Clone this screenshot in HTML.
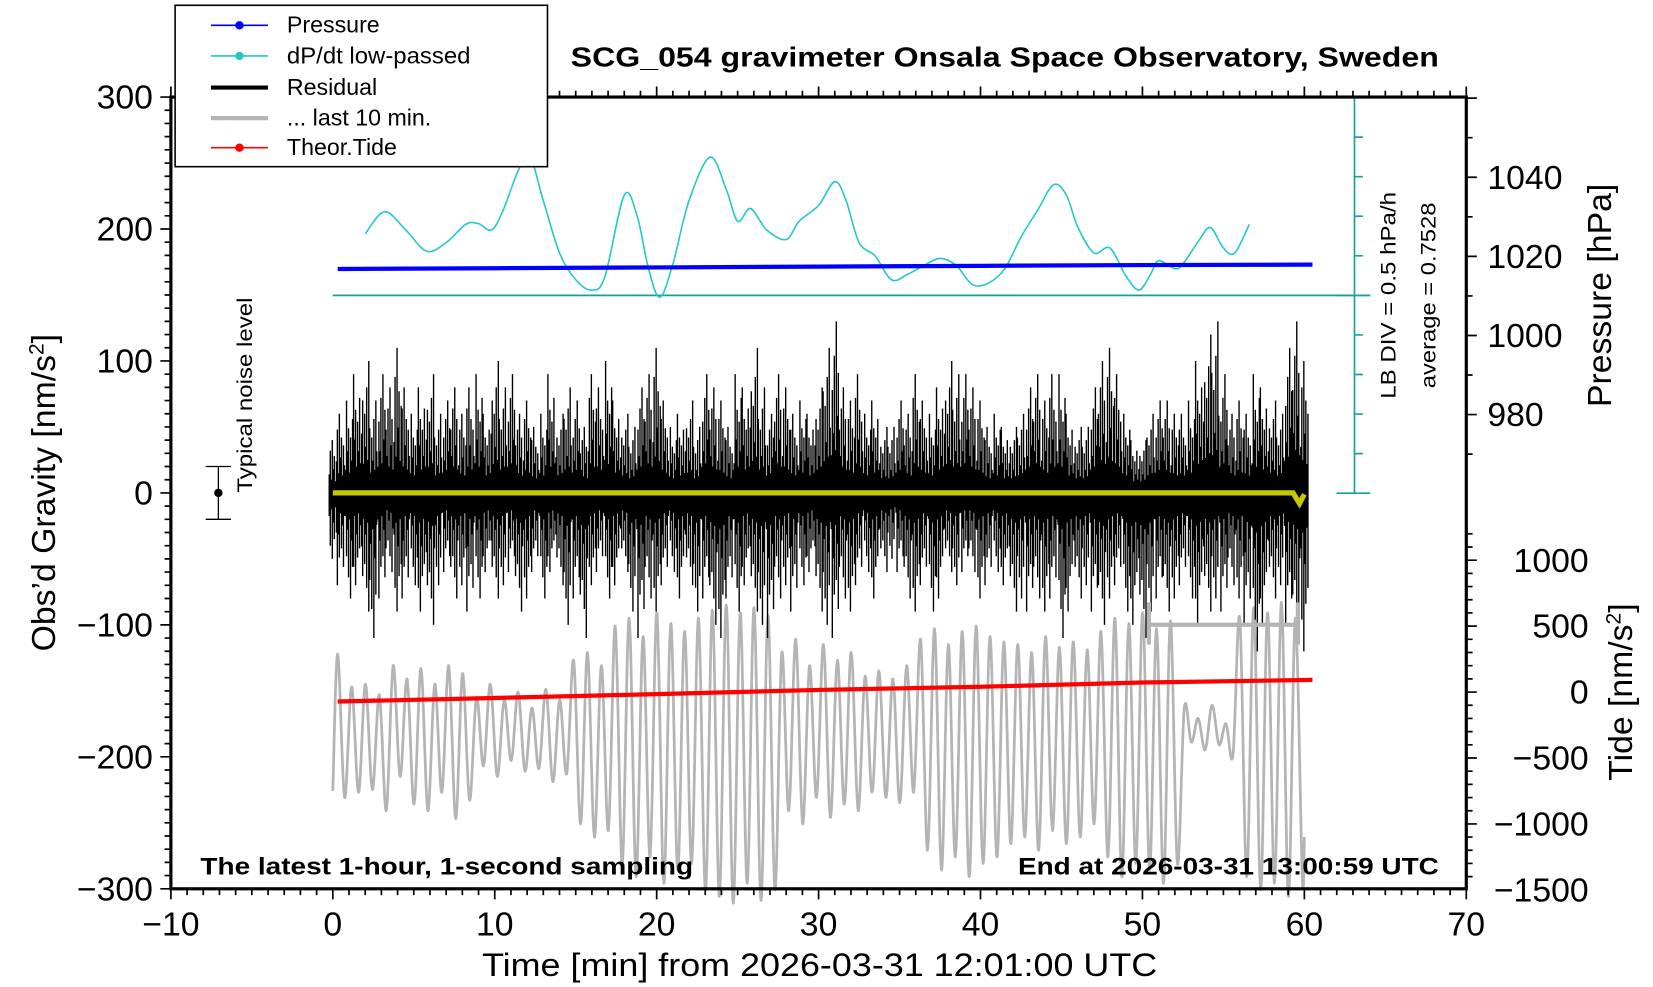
<!DOCTYPE html>
<html><head><meta charset="utf-8"><style>
html,body{margin:0;padding:0;background:#fff;}
svg{display:block;font-family:"Liberation Sans",sans-serif;}
</style></head><body>
<svg id="chart" width="1653" height="987" viewBox="0 0 1567 935.6" preserveAspectRatio="none" xmlns="http://www.w3.org/2000/svg">
<rect x="0" y="0" width="1567" height="936" fill="#fff"/>
<g id="gray"></g>
<g id="resid"></g>
<g id="over"></g>
<g id="axes"></g>
</svg>
<script>
// ---- data ----
const xTicks = [-10,0,10,20,30,40,50,60,70];
const yTicks = [-300,-200,-100,0,100,200,300];
const pTicks = [980,1000,1020,1040];
const tideTicks = [-1500,-1000,-500,0,500,1000];
const resMax = [40,60,70,90,100,70,90,80,110,80,60,80,90,60,70,80,60,80,90,60,100,80,90,60,70,50,60,90,60,80,70,50,90,80,100,70,60,50,80,90,110,70,50,60,70,50,90,80,70,50,90,80,110,80,60,90,80,60,70,60,80,110,130,80,70,90,60,70,50,50,70,60,90,70,60,80,100,90,90,80,70,50,60,50,50,60,80,90,70,90,90,60,50,50,80,100,110,90,60,40,40,60,70,70,60,60,70,100,120,130,90,60,70,60,90,80,70,60,110,130,100];
const resMin = [-50,-70,-80,-70,-90,-110,-80,-60,-90,-80,-70,-90,-100,-70,-60,-80,-70,-90,-80,-60,-80,-70,-60,-90,-80,-60,-80,-60,-70,-100,-80,-110,-70,-60,-80,-70,-60,-90,-110,-80,-90,-70,-60,-80,-70,-90,-80,-100,-110,-80,-90,-70,-90,-100,-110,-80,-70,-90,-70,-60,-90,-100,-110,-80,-90,-70,-60,-80,-60,-50,-60,-80,-90,-70,-90,-80,-60,-70,-60,-60,-80,-70,-60,-70,-90,-80,-90,-80,-90,-80,-110,-90,-80,-70,-90,-100,-80,-70,-90,-100,-110,-90,-80,-90,-80,-70,-80,-100,-90,-80,-90,-70,-80,-100,-120,-100,-80,-70,-100,-110,-120];
const dpTime = [2.0,3.2,4.5,5.8,7,8.2,9,9.8,10.5,11.5,12.2,13,14,15,16,16.8,18,18.8,19.5,20.2,21,22,23.3,24.3,25,25.8,26.8,28,28.8,30,31,31.7,32.5,33.5,34.5,35.5,36.5,37.5,38.5,39.5,40.5,41.5,42.5,43.5,44.5,45.3,46,47,48,49,49.8,50.5,51,52,52.5,53.5,54.2,55,55.7,56.6];
const dpValue = [1.53,1.81,1.58,1.31,1.42,1.65,1.66,1.58,1.82,2.35,2.49,1.95,1.29,0.95,0.82,0.99,2.02,1.75,1.09,0.73,1.15,1.95,2.50,2.09,1.69,1.85,1.58,1.46,1.69,1.89,2.19,1.95,1.42,1.25,0.95,1.02,1.13,1.22,1.13,0.89,0.91,1.09,1.49,1.82,2.15,2.02,1.62,1.29,1.35,0.99,0.82,1.02,1.19,1.09,1.15,1.45,1.61,1.35,1.29,1.65];
const dpAverage = 0.7528;
const presTime = [0.3,10,20,30,40,50,60.5];
const presValue = [1016.8,1017.0,1017.2,1017.4,1017.6,1017.8,1017.9];
const tideTime = [0.3,10,20,30,40,50,60.5];
const tideValue = [-72,-45,-16,16,40,72,92];
const grayHi = [288,40,60,-20,200, 100,180,60,200,140, -40,60,-60,0,-120,20,-60, 240,300,200, 500,560,420,600,520,460, 560,620,660,600,640,580, 300,400,200,360,240,300,120, 160,100,200, 400,480,360,460,500,420,380, 360,300,420,340,380,320, 460,560,520,600,480,540, -120,-200,-100,-240, 560,640,600,680,560];
const grayLo = [-800,-760,-740,-900,-640, -850,-900,-760,-960,-820, -560,-640,-520,-600,-580,-680,-620, -1000,-1100,-1050, -1300,-1400,-1250,-1450,-1350,-1300, -1500,-1550,-1600,-1450,-1580,-1500, -900,-1000,-800,-950,-850,-900,-760, -800,-840,-760, -1200,-1350,-1250,-1400,-1300,-1250,-1150, -1100,-1200,-1050,-1150,-1100,-1000, -1250,-1400,-1300,-1350,-1450,-1300, -380,-440,-400,-480, -1400,-1500,-1450,-1550,-1400];

// ---- scales ----
const L=162,R=1390,T=92,B=842.5;
const X = m => L + (m+10)/80*(R-L);
const Y = v => B - (v+300)/600*(B-T);
const P = p => 243 - (p-1020)*3.75;
const TD = v => 656 - v*0.125;
const DP = v => 280 - (v-dpAverage)/0.5*37.5;
const NS='http://www.w3.org/2000/svg';
function mk(tag, attrs, parent){const e=document.createElementNS(NS,tag);for(const k in attrs)e.setAttribute(k,attrs[k]);parent.appendChild(e);return e;}
function smooth(pts){let d='M'+pts[0][0].toFixed(1)+','+pts[0][1].toFixed(1);for(let i=0;i<pts.length-1;i++){const p0=pts[Math.max(0,i-1)],p1=pts[i],p2=pts[i+1],p3=pts[Math.min(pts.length-1,i+2)];const c1x=p1[0]+(p2[0]-p0[0])/6,c1y=p1[1]+(p2[1]-p0[1])/6,c2x=p2[0]-(p3[0]-p1[0])/6,c2y=p2[1]-(p3[1]-p1[1])/6;d+=` C${c1x.toFixed(1)},${c1y.toFixed(1)} ${c2x.toFixed(1)},${c2y.toFixed(1)} ${p2[0].toFixed(1)},${p2[1].toFixed(1)}`;}return d;}
const gGray=document.getElementById('gray'),gRes=document.getElementById('resid'),gOver=document.getElementById('over'),gAx=document.getElementById('axes');

// gray oscillation
(function(){
  const per=60/grayHi.length;const pts=[[X(0),TD(-750)]];
  for(let i=0;i<grayHi.length;i++){pts.push([X(i*per+0.3),TD(grayHi[i])]);pts.push([X(i*per+0.73),TD(grayLo[i])]);}
  pts.push([X(60),TD(-1100)]);
  const p=mk('path',{d:smooth(pts),fill:'none',stroke:'#b4b4b4','stroke-width':2.6},gGray);
  
  
})();

// residual
(function(){
  const n=resMax.length, step=60/(n-1);
  const fr=[0.35,0.8,0.25,1,0.45,0.7,0.2,0.6];
  const w=(X(step)-X(0));
  let d='';
  for(let i=0;i<n;i++){
    const xc=X(i*step);
    d+=`M${(xc-w/2).toFixed(1)},${Y(resMax[i]*0.22).toFixed(1)}H${(xc+w/2).toFixed(1)}V${Y(resMin[i]*0.22).toFixed(1)}H${(xc-w/2).toFixed(1)}Z`;
  }
  const core=mk('path',{d:d,fill:'#000'},gRes);
  
  
  let s='';
  for(let i=0;i<n;i++){
    for(let k=0;k<fr.length;k++){
      const x=X(i*step)-w/2+(k+0.5)*w/fr.length;
      s+=`M${x.toFixed(1)},${Y(resMax[i]*fr[(k+i)%fr.length]).toFixed(1)}V${Y(resMin[i]*fr[(k+i*3)%fr.length]).toFixed(1)}`;
    }
  }
  const sp=mk('path',{d:s,stroke:'#000','stroke-width':1.3,fill:'none'},gRes);
  
  
  const yl=mk('path',{d:`M${X(0)},${Y(0)}H${X(59.3)}L${X(59.7)},${Y(-8)}L${X(60)},${Y(-1)}`,stroke:'#c8c800','stroke-width':5,fill:'none'},gRes);
  
  
})();

// overlays
(function(){
  const bl=mk('line',{x1:X(0),x2:1299,y1:DP(dpAverage),y2:DP(dpAverage),stroke:'#1aa0a0','stroke-width':1.6},gOver);
  
  
  const cp=mk('path',{d:smooth(dpTime.map((t,i)=>[X(t),DP(dpValue[i])])),fill:'none',stroke:'#20c8c8','stroke-width':1.5},gOver);
  
  
  const pp=mk('polyline',{points:presTime.map((t,i)=>X(t)+','+P(presValue[i])).join(' '),fill:'none',stroke:'#0000ff','stroke-width':4},gOver);
  
  
  const tp=mk('polyline',{points:tideTime.map((t,i)=>X(t)+','+TD(tideValue[i])).join(' '),fill:'none',stroke:'#ff0000','stroke-width':4},gOver);
  
  
  const br=mk('path',{d:`M${X(50.4)},${TD(510)}H${X(59.6)}M${X(50.4)},${TD(680)}V${TD(360)}M${X(59.6)},${TD(680)}V${TD(360)}`,stroke:'#b4b4b4','stroke-width':4,fill:'none'},gOver);
  
  
  let d=`M1284,${DP(dpAverage+2.5)}V${DP(dpAverage-2.5)}`;
  for(let k=-5;k<=5;k++){const y=DP(dpAverage+k*0.5);const major=(k===-5||k===0||k===5);d+=major?`M1267,${y}H1299`:`M1284,${y}H1292`;}
  const ax=mk('path',{d:d,stroke:'#1aa0a0','stroke-width':1.6,fill:'none'},gOver);
  
  
  const t1=mk('text',{transform:'translate(1323,280) rotate(-90)','text-anchor':'middle','font-size':20,textLength:196,lengthAdjust:'spacingAndGlyphs'},gOver);t1.textContent='LB DIV = 0.5 hPa/h';
  
  
  const t2=mk('text',{transform:'translate(1361,280) rotate(-90)','text-anchor':'middle','font-size':20,textLength:176,lengthAdjust:'spacingAndGlyphs'},gOver);t2.textContent='average = 0.7528';
  
  
  const nb=mk('path',{d:`M195,${Y(20)}H219M195,${Y(-20)}H219M207,${Y(20)}V${Y(-20)}`,stroke:'#000','stroke-width':1.2,fill:'none'},gOver);
  
  
  const nd=mk('circle',{cx:207,cy:Y(0),r:4,fill:'#000'},gOver);
  
  
  const nt=mk('text',{transform:`translate(239,467) rotate(-90)`,'font-size':20,textLength:185,lengthAdjust:'spacingAndGlyphs'},gOver);nt.textContent='Typical noise level';
  
  
})();

// axes
(function(){
  const fr=mk('rect',{x:L,y:T,width:R-L,height:B-T,fill:'none',stroke:'#000','stroke-width':3},gAx);
  
  
  let d='';
  for(let m=-10;m<=70;m++){const x=X(m);const len=(m%10===0)?10:6;d+=`M${x},${B}v${len}M${x},${T}v${-len}`;}
  for(let v=-300;v<=300;v+=10){const y=Y(v);const len=(v%100===0)?10:6;d+=`M${L},${y}h${-len}`;}
  for(let p=960;p<=1060;p+=10){const y=P(p);if(y<T||y>467)continue;const len=(p%20===0)?10:6;d+=`M${R},${y}h${len}`;}
  for(let v=-1500;v<=1200;v+=100){const y=TD(v);if(y<470||y>B)continue;const len=(v%500===0)?10:6;d+=`M${R},${y}h${len}`;}
  const tk=mk('path',{d:d,stroke:'#000','stroke-width':1.6,fill:'none'},gAx);
  
  
  const fs=32;
  xTicks.forEach(m=>{const t=mk('text',{x:X(m),y:887,'text-anchor':'middle','font-size':fs},gAx);t.textContent=String(m).replace('-','\u2212');
    
    });
  yTicks.forEach(v=>{const t=mk('text',{x:145,y:Y(v)+11,'text-anchor':'end','font-size':fs},gAx);t.textContent=String(v).replace('-','\u2212');
    
    });
  pTicks.forEach(p=>{const t=mk('text',{x:1410,y:P(p)+11,'font-size':fs},gAx);t.textContent=String(p);
    
    });
  tideTicks.forEach(v=>{const t=mk('text',{x:1506,y:TD(v)+11,'text-anchor':'end','font-size':fs},gAx);t.textContent=String(v).replace('-','\u2212');
    
    });
})();
</script>
<svg style="position:absolute;left:0;top:0" width="1653" height="987" viewBox="0 0 1567 935.6" preserveAspectRatio="none" xmlns="http://www.w3.org/2000/svg" font-family="Liberation Sans, sans-serif">
<text x="541" y="63" font-size="26" font-weight="bold" textLength="823" lengthAdjust="spacingAndGlyphs">SCG_054 gravimeter Onsala Space Observatory, Sweden</text>
<text x="457" y="925" font-size="31" textLength="640" lengthAdjust="spacingAndGlyphs">Time [min] from 2026-03-31 12:01:00 UTC</text>
<text transform="translate(52,467) rotate(-90)" text-anchor="middle" font-size="32">Obs’d Gravity [nm/s<tspan font-size="20" dy="-11">2</tspan><tspan dy="11">]</tspan></text>
<text transform="translate(1527,280) rotate(-90)" text-anchor="middle" font-size="32">Pressure [hPa]</text>
<text transform="translate(1547,656) rotate(-90)" text-anchor="middle" font-size="32">Tide [nm/s<tspan font-size="20" dy="-11">2</tspan><tspan dy="11">]</tspan></text>
<text x="190" y="829" font-size="23" font-weight="bold" textLength="467" lengthAdjust="spacingAndGlyphs">The latest 1-hour, 1-second sampling</text>
<text x="965" y="829" font-size="23" font-weight="bold" textLength="399" lengthAdjust="spacingAndGlyphs">End at 2026-03-31 13:00:59 UTC</text>
<g>
<rect x="166" y="5" width="353" height="153" fill="#fff" stroke="#000" stroke-width="1.5"/>
<g><line x1="200" x2="254" y1="24" y2="24" stroke="#0000ff" stroke-width="1.5"/><circle cx="227" cy="24" r="4" fill="#0000ff"/><text x="272" y="31" font-size="22">Pressure</text></g>
<g><line x1="200" x2="254" y1="53" y2="53" stroke="#20c8c8" stroke-width="1.5"/><circle cx="227" cy="53" r="4" fill="#20c8c8"/><text x="272" y="60" font-size="22" textLength="174" lengthAdjust="spacingAndGlyphs">dP/dt low-passed</text></g>
<g><line x1="200" x2="254" y1="83" y2="83" stroke="#000" stroke-width="4"/><text x="272" y="90" font-size="22">Residual</text></g>
<g><line x1="200" x2="254" y1="112" y2="112" stroke="#b4b4b4" stroke-width="4"/><text x="272" y="119" font-size="22">... last 10 min.</text></g>
<g><line x1="200" x2="254" y1="140" y2="140" stroke="#ff0000" stroke-width="1.5"/><circle cx="227" cy="140" r="4" fill="#ff0000"/><text x="272" y="147" font-size="22">Theor.Tide</text></g>
</g>
</svg>
</body></html>
